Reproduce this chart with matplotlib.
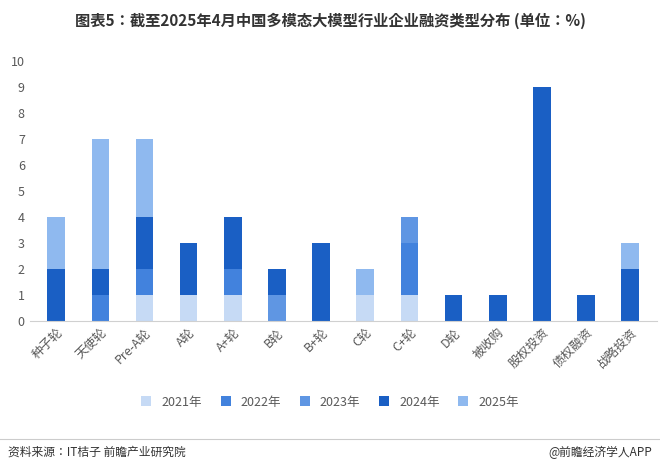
import matplotlib
matplotlib.use("Agg")
import matplotlib.pyplot as plt
from matplotlib import font_manager as fm
import numpy as np
cjk = [f for f in fm.fontManager.ttflist if ('CJK' in f.name or 'CJK' in f.fname)]
fam = None
for pref in ['Sans CJK SC','Sans CJK JP','Sans CJK','Sans','']:
    for f in cjk:
        if pref in f.name:
            fam = f.name; break
    if fam: break
plt.rcParams['font.family'] = [fam] if fam else ['sans-serif']

categories = ["种子轮","天使轮","Pre-A轮","A轮","A+轮","B轮","B+轮","C轮","C+轮","D轮","被收购","股权投资","债权融资","战略投资"]
years = ["2021年","2022年","2023年","2024年","2025年"]
v2021 = [0,0,1,1,1,0,0,1,1,0,0,0,0,0]
v2022 = [0,1,1,0,1,0,0,0,2,0,0,0,0,0]
v2023 = [0,0,0,0,0,1,0,0,1,0,0,0,0,0]
v2024 = [2,1,2,2,2,1,3,0,0,1,1,9,1,2]
v2025 = [2,5,3,0,0,0,0,1,0,0,0,0,0,1]
colors = ["#c6daf5","#4282dd","#5f96e3","#1a5fc4","#8fb9ef"]

fig = plt.figure(figsize=(6.6,4.69), dpi=100)
ax = fig.add_axes([0.045,0.315,0.95,0.555])
x = np.arange(len(categories))
bottom = np.zeros(len(categories))
for y, vals, c in zip(years,[v2021,v2022,v2023,v2024,v2025],colors):
    ax.bar(x, vals, 0.4, bottom=bottom, color=c, label=y)
    bottom += np.array(vals)
ax.set_ylim(0,10)
ax.set_yticks(range(11))
ax.set_xlim(-0.6,len(categories)-0.4)
ax.set_xticks(x)
ax.set_xticklabels(categories, rotation=45, ha='right', rotation_mode='anchor', fontsize=9, color='#595959')
ax.tick_params(axis='y', labelsize=9, colors='#595959', length=0)
ax.tick_params(axis='x', length=0)
for s in ['top','right','left']:
    ax.spines[s].set_visible(False)
ax.spines['bottom'].set_color('#d0d0d0')
fig.legend(loc='lower center', bbox_to_anchor=(0.5,0.105), ncol=5, frameon=False, fontsize=9,
           handlelength=0.8, handleheight=0.8, columnspacing=1.5, labelcolor='#595959')
fig.text(0.5,0.955,"图表5：截至2025年4月中国多模态大模型行业企业融资类型分布 (单位：%)", ha='center', va='center', fontsize=11, fontweight='bold', color='#333333')
fig.add_artist(plt.Line2D([0.0,1.0],[0.065,0.065], color='#cccccc', lw=0.8))
fig.text(0.012,0.035,"资料来源：IT桔子 前瞻产业研究院", fontsize=8.5, va='center', color='#333333')
fig.text(0.988,0.035,"@前瞻经济学人APP", fontsize=8.5, va='center', ha='right', color='#333333')
fig.savefig("out.png", dpi=100)
